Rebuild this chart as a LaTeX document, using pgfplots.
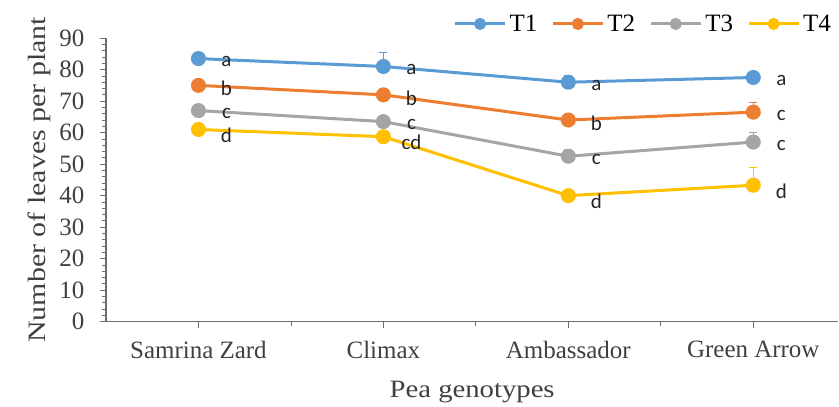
\documentclass[border=0pt]{standalone}
\usepackage{fontspec}
\setmainfont{Liberation Serif}
\newfontfamily\carlito{Carlito}
\usepackage{pgfplots}
\usepackage{pgfplotstable}
\pgfplotsset{compat=1.18}
\definecolor{cT1}{RGB}{91,155,213}
\definecolor{cT2}{RGB}{237,125,49}
\definecolor{cT3}{RGB}{165,165,165}
\definecolor{cT4}{RGB}{255,192,0}
\definecolor{axgray}{RGB}{110,110,110}
\pgfplotstableread{
x y err lab
0 83.5 1.2 a
1 81.0 4.5 a
2 76.0 2.0 a
3 77.5 1.0 a
}\Tone
\pgfplotstableread{
x y err lab
0 75.0 1.0 b
1 72.0 1.0 b
2 64.0 1.0 b
3 66.5 3.0 c
}\Ttwo
\pgfplotstableread{
x y err lab
0 67.0 1.5 c
1 63.5 1.0 c
2 52.5 2.0 c
3 57.0 3.0 c
}\Tthree
\pgfplotstableread{
x y err lab
0 61.0 1.0 d
1 58.7 1.0 cd
2 40.0 1.0 d
3 43.3 5.7 d
}\Tfour
\begin{document}
\begin{tikzpicture}[x=1bp,y=1bp]
\begin{axis}[
  scale only axis,
  width=731bp, height=283bp,
  xmin=-0.5, xmax=3.46,
  ymin=0, ymax=90,
  clip=false,
  axis x line=bottom, axis y line=left,
  axis line style={axgray, line width=1.3bp, -},
  xtick={0,1,2,3},
  xticklabels={Samrina Zard, Climax, Ambassador, Green Arrow},
  minor xtick={0.5,1.5,2.5},
  ytick={0,10,...,90},
  minor y tick num=4,
  tick align=outside,
  major tick length=6bp, minor tick length=4bp,
  tick style={axgray, line width=0.8bp},
  ticklabel style={font=\fontsize{25}{25}\selectfont, text=black!75},
  yticklabel style={xshift=-12bp},
  xticklabel style={yshift=-10bp},
  /pgf/number format/assume math mode=true,
  xlabel={\scalebox{1.15}[1]{Pea genotypes}},
  ylabel={\scalebox{1.2}[1]{Number of leaves per plant}},
  label style={font=\fontsize{25}{25}\selectfont, text=black!75},
  xlabel style={yshift=-16bp},
  ylabel style={yshift=2bp},
  legend style={draw=none, fill=none, at={(rel axis cs:0.7335,1.05)}, anchor=center,
    legend columns=4, font=\fontsize{25}{25}\selectfont,
    /tikz/every odd column/.append style={column sep=1bp},
    /tikz/every even column/.append style={column sep=12bp},
    inner xsep=0pt},
  legend image code/.code={\draw[mark repeat=2,mark phase=2, mark size=4.5bp] plot coordinates {(0bp,0bp) (25bp,0bp) (50bp,0bp)};},
  every axis plot/.append style={line width=3bp, mark=*, mark size=6bp},
  error bars/y dir=plus, error bars/y explicit,
  error bars/error bar style={line width=0.9bp},
  error bars/error mark options={rotate=90, mark size=4bp, line width=0.9bp},
  nodes near coords, point meta=explicit symbolic,
  every node near coord/.append style={anchor=center, xshift=28bp, yshift=-3bp, black!85, font=\carlito\fontsize{21}{21}\selectfont, inner sep=1bp},
]
\addplot[cT1, mark options={fill=cT1}] table[x=x,y=y,y error=err,meta=lab] {\Tone};
\addlegendentry{T1}
\addplot[cT2, mark options={fill=cT2}] table[x=x,y=y,y error=err,meta=lab] {\Ttwo};
\addlegendentry{T2}
\addplot[cT3, mark options={fill=cT3}] table[x=x,y=y,y error=err,meta=lab] {\Tthree};
\addlegendentry{T3}
\addplot[cT4, mark options={fill=cT4}, nodes near coords style={yshift=-3bp}] table[x=x,y=y,y error=err,meta=lab] {\Tfour};
\addlegendentry{T4}
\path (axis cs:-1.073,-27) (axis cs:3.462,102.1);
\end{axis}
\end{tikzpicture}
\end{document}
